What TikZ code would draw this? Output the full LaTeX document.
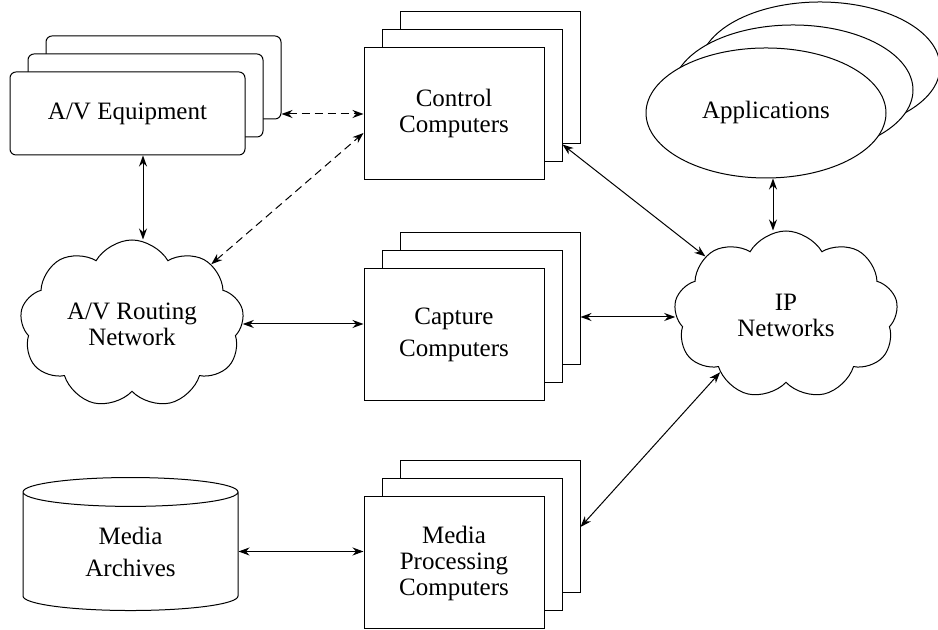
\documentclass[tikz,border=0pt]{standalone}
\usepackage{fontspec}
\setmainfont{Liberation Serif}
\usetikzlibrary{arrows.meta,calc,shapes.geometric,shapes.symbols}
\tikzset{every node/.append style={align=center}}

\begin{document}
\begin{tikzpicture}[x=0.5pt, y=0.5pt, every node/.style={font=\fontsize{12.5}{13}\selectfont, align=center},
  stackbox/.style={draw, fill=white, line width=0.5pt, minimum width=90pt, minimum height=66pt, inner sep=0pt},
  eqbox/.style={draw, fill=white, line width=0.5pt, rounded corners=3pt, minimum width=117.5pt, minimum height=41.5pt, inner sep=0pt},
  appell/.style={draw, fill=white, line width=0.5pt, ellipse, minimum width=120pt, minimum height=65pt, inner sep=0pt},
  netcloud/.style={draw, fill=white, line width=0.5pt, cloud, cloud puffs=9, cloud puff arc=120, aspect=1.35, minimum width=112pt, minimum height=84pt, inner sep=0pt},
  link/.style={{Stealth[length=5.5pt,width=4pt]}-{Stealth[length=5.5pt,width=4pt]}, line width=0.5pt},
  dlink/.style={link, dash pattern=on 4pt off 2.5pt}]
  \useasboundingbox (0,0) rectangle (938,630);
  % stacked equipment and computers
  \node[eqbox] (eq3) at (163.5,552.5) {};
  \node[eqbox] (eq2) at (145.5,534.5) {};
  \node[eqbox] (eq) at (127.5,516.5) {A/V Equipment};
  \node[stackbox] (ctrl3) at (490,552) {};
  \node[stackbox] (ctrl2) at (472,534) {};
  \node[stackbox] (ctrl) at (454,516) {Control\\Computers};
  \node[stackbox] (cap3) at (490,331) {};
  \node[stackbox] (cap2) at (472,313) {};
  \node[stackbox] (cap) at (454,295) {Capture\\[3pt]Computers};
  \node[stackbox] (proc3) at (490,103) {};
  \node[stackbox] (proc2) at (472,85) {};
  \node[stackbox] (proc) at (454,67) {Media\\Processing\\Computers};
  % applications
  \node[appell] (app3) at (820,563) {};
  \node[appell] (app2) at (793,540) {};
  \node[appell] (app) at (766,517) {Applications};
  % networks and storage
  \node[netcloud] (avnet) at (132,306) {A/V Routing\\Network};
  \node[netcloud] (ipnet) at (786,315) {IP\\Networks};
  \node[draw, line width=0.5pt, cylinder, shape border rotate=90, aspect=0.32, minimum width=107.5pt, minimum height=66.5pt, inner sep=0pt] (arch) at (130.5,78.5) {Media\\[3pt]Archives};
  % connections
  \draw[link] ([xshift=7.75pt]eq.south) -- ([xshift=7.75pt]eq.south |- avnet.north);
  \draw[dlink] (eq3.east |- ctrl.west) -- (ctrl.west);
  \draw[dlink] (avnet.37) -- ([yshift=-9.5pt]ctrl.west);
  \draw[link] (avnet.east) -- (avnet.east -| cap.west);
  \draw[link] (cap3.east |- cap2.center) -- (ipnet.west |- cap2.center);
  \draw[link] (ctrl2.east |- ctrl3.south) -- (ipnet.144);
  \draw[link] ([xshift=3.5pt]app.south) -- ([xshift=3.5pt]app.south |- ipnet.north);
  \draw[link] (proc3.east) -- (ipnet.-139);
  \draw[link] (arch.east) -- (arch.east -| proc.west);
\end{tikzpicture}
\end{document}
